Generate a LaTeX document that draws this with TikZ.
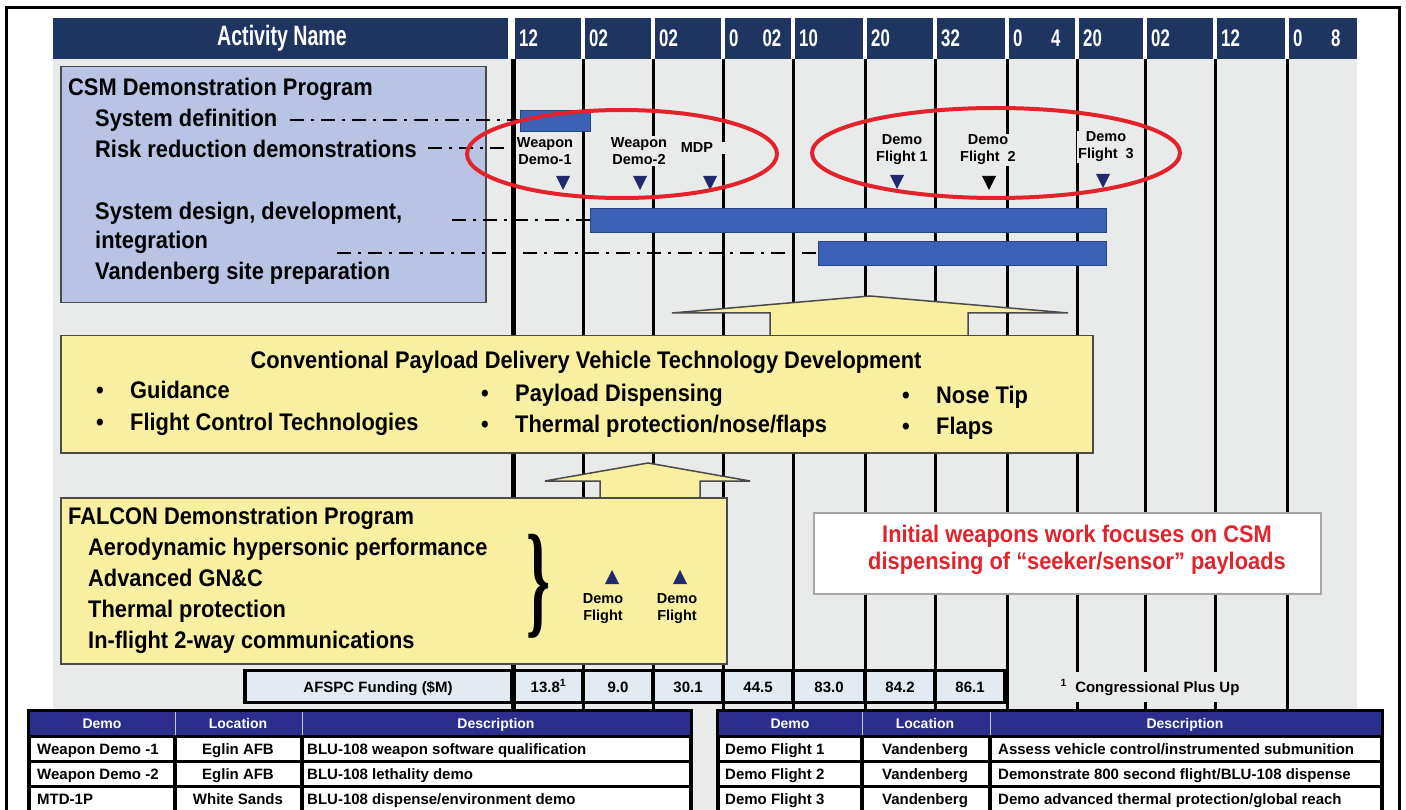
\documentclass[tikz,border=0pt]{standalone}
\usepackage{fontspec}
\usepackage{graphicx}
\setmainfont{Liberation Sans}
\newfontfamily\nar{Liberation Sans}[FakeStretch=0.91]
\newfontfamily\hdr{Liberation Sans}[FakeStretch=0.7]
\newfontfamily\serifb{Liberation Serif}
\usetikzlibrary{shapes.geometric}
\definecolor{navy}{HTML}{1E3562}
\definecolor{chartbg}{HTML}{E9EAEA}
\definecolor{csmfill}{HTML}{B9C4E4}
\definecolor{barblue}{HTML}{3B62B7}
\definecolor{ellred}{HTML}{E3232B}
\definecolor{paleyel}{HTML}{F8F0A0}
\definecolor{fundfill}{HTML}{E3EAF2}
\definecolor{tabhead}{HTML}{2B2E8C}
\definecolor{trinavy}{HTML}{22296F}
\definecolor{boxedge}{HTML}{4A4A4A}
\newcommand\tridn[3]{\fill[#3] (#1-7,#2-7) -- (#1+7,#2-7) -- (#1,#2+7) -- cycle;}
\newcommand\triup[3]{\fill[#3] (#1-7,#2+7) -- (#1+7,#2+7) -- (#1,#2-7) -- cycle;}
\begin{document}
\begin{tikzpicture}[x=1pt,y=-1pt,
  big/.style={font=\nar\bfseries\fontsize{24}{26}\selectfont, inner sep=0pt},
  lbl/.style={font=\bfseries\fontsize{14.5}{17}\selectfont, align=center, fill=chartbg, inner sep=1pt},
  flbl/.style={font=\bfseries\fontsize{14.5}{17}\selectfont, align=center, inner sep=1pt},
  tab/.style={font=\bfseries\fontsize{15}{17}\selectfont, inner sep=0pt},
  tabh/.style={font=\bfseries\fontsize{14}{16}\selectfont, inner sep=0pt, text=white},
  gridline/.style={line width=3pt},
  dashdot/.style={line width=2.5pt, dash pattern=on 14pt off 7pt on 3pt off 7pt},
  bar/.style={draw=barblue!70!black, fill=barblue, line width=1pt, inner sep=0pt},
  panel/.style={draw=boxedge, line width=1.5pt, inner sep=0pt, anchor=north west},
  hd/.style={font=\hdr\bfseries\fontsize{24}{26}\selectfont, text=white, inner sep=0pt}
]
\useasboundingbox (0,0) rectangle (1406,810);
\fill[white] (0,0) rectangle (1406,810);
% chart background
\fill[chartbg] (53,59) rectangle (1357,810);
% header
\fill[navy] (53,18) rectangle (508,59);
\node[hd, font=\hdr\bfseries\fontsize{28}{30}\selectfont] (hname) at (282,38) {Activity Name};
\foreach \l/\r/\t [count=\i] in {515/581/12, 585/651/02, 655/721/02, 725/791/0\quad 02, 795/863/10, 867/933/20, 937/1005/32, 1009/1075/0\quad\ 4, 1079/1143/20, 1147/1213/02, 1217/1285/12, 1289/1357/0\quad\ 8}{
  \fill[navy] (\l,18) rectangle (\r,59);
  \node[hd, anchor=west] (hc\i) at (\l+4,38) {\t};
}
% grid lines
\foreach \x in {583,653,723,793,865,935,1007,1077,1145,1215,1287}
  \draw[gridline] (\x,59) -- (\x,712);
\draw[line width=5pt] (513,59) -- (513,712);
% CSM box
\node[panel, fill=csmfill, minimum width=425pt, minimum height=236pt] (csm) at (60,66) {};
\node[big, anchor=base west] (tcsm) at (68,96) {CSM Demonstration Program};
\node[big, anchor=base west] (tsd) at (95,127) {System definition};
\node[big, anchor=base west] (trr) at (95,158) {Risk reduction demonstrations};
\node[big, anchor=base west] (tdd) at (95,220) {System design, development,};
\node[big, anchor=base west] (tint) at (95,249) {integration};
\node[big, anchor=base west] (tvb) at (95,280) {Vandenberg site preparation};
% bars
\node[bar, anchor=north west, minimum width=70pt, minimum height=21pt] (bar1) at (520,110) {};
\node[bar, anchor=north west, minimum width=516pt, minimum height=24pt] (bar2) at (590,208) {};
\node[bar, anchor=north west, minimum width=288pt, minimum height=24pt] (bar3) at (818,241) {};
% dash-dot leaders
\coordinate (sd0) at (290,120);
\coordinate (rr0) at (428,148);
\coordinate (rr1) at (518,148);
\coordinate (dd0) at (452,220);
\coordinate (vb0) at (337,253);
\draw[dashdot] (sd0) -- (sd0 -| bar1.west);
\draw[dashdot] (rr0) -- (rr1);
\draw[dashdot] (dd0) -- (dd0 -| bar2.west);
\draw[dashdot] (vb0) -- (vb0 -| bar3.west);
% milestone labels
\node[lbl] (w1) at (545,151) {Weapon\\Demo-1};
\node[lbl] (w2) at (639,151) {Weapon\\Demo-2};
\node[lbl, minimum width=56pt] (mdp) at (697,148) {MDP};
\node[lbl] (f1) at (902,150) {Demo\\Flight 1};
\node[lbl] (f2) at (988,150) {Demo\\Flight\ \ 2};
\node[lbl] (f3) at (1106,147) {Demo\\Flight\ \ 3};
\tridn{563}{183}{trinavy}
\tridn{640}{183}{trinavy}
\tridn{710}{183}{trinavy}
\tridn{897}{182}{trinavy}
\tridn{989}{183}{black}
\tridn{1103}{181}{trinavy}
% red ellipses
\draw[ellred, line width=4pt] (622,154) ellipse [x radius=155pt, y radius=44pt];
\draw[ellred, line width=4pt] (996,153) ellipse [x radius=184pt, y radius=45pt];
% big arrow
\filldraw[fill=paleyel, draw=boxedge, line width=1.5pt] (770,336) -- (770,313) -- (672,313) -- (870,296) -- (1068,313) -- (968,313) -- (968,336);
% CPDV box
\node[panel, fill=paleyel, minimum width=1032pt, minimum height=117pt] (cpdv) at (60,335) {};
\node[big, anchor=base] (tcp) at (586,368) {Conventional Payload Delivery Vehicle Technology Development};
\node[big, anchor=base west] (b1) at (96,399) {\textbullet};
\node[big, anchor=base west] (g1) at (130,399) {Guidance};
\node[big, anchor=base west] (b2) at (96,430) {\textbullet};
\node[big, anchor=base west] (g2) at (130,430) {Flight Control Technologies};
\node[big, anchor=base west] (b3) at (481,401) {\textbullet};
\node[big, anchor=base west] (g3) at (515,401) {Payload Dispensing};
\node[big, anchor=base west] (b4) at (481,432) {\textbullet};
\node[big, anchor=base west] (g4) at (515,432) {Thermal protection/nose/flaps};
\node[big, anchor=base west] (b5) at (902,403) {\textbullet};
\node[big, anchor=base west] (g5) at (936,403) {Nose Tip};
\node[big, anchor=base west] (b6) at (902,434) {\textbullet};
\node[big, anchor=base west] (g6) at (936,434) {Flaps};
% lower arrow
\filldraw[fill=paleyel, draw=boxedge, line width=1.5pt] (600,498) -- (600,481) -- (545,481) -- (648,463) -- (750,481) -- (700,481) -- (700,498);
% FALCON box
\node[panel, fill=paleyel, minimum width=666pt, minimum height=166pt] (falcon) at (60,497) {};
\node[big, anchor=base west] (tfa) at (68,524) {FALCON Demonstration Program};
\node[big, anchor=base west] (fa1) at (88,555) {Aerodynamic hypersonic performance};
\node[big, anchor=base west] (fa2) at (88,586) {Advanced GN\&C};
\node[big, anchor=base west] (fa3) at (88,617) {Thermal protection};
\node[big, anchor=base west] (fa4) at (88,648) {In-flight 2-way communications};
\node[inner sep=0pt] (brace) at (538,586) {\resizebox*{24pt}{104pt}{\serifb\bfseries\}}};
\triup{612}{577}{trinavy}
\triup{680}{577}{trinavy}
\node[flbl] (fd1) at (603,609) {Demo\\Flight};
\node[flbl] (fd2) at (677,609) {Demo\\Flight};
% red note box
\node[panel, draw=gray!70, fill=white, minimum width=507pt, minimum height=81pt] (note) at (813,512) {};
\node[big, text=ellred, anchor=base] (n1) at (1077,542) {Initial weapons work focuses on CSM};
\node[big, text=ellred, anchor=base] (n2) at (1077,569) {dispensing of “seeker/sensor” payloads};
% funding row
\fill[black] (243,669) rectangle (1006,704);
\fill[fundfill] (247,672) rectangle (510,701);
\foreach \l/\r/\v [count=\i] in {516/581/13.8\textsuperscript{1}, 585/651/9.0, 655/721/30.1, 725/791/44.5, 795/863/83.0, 867/933/84.2, 937/1003/86.1}{
  \fill[fundfill] (\l,672) rectangle (\r,701);
  \node[tab, anchor=base] (fv\i) at ({(\l+\r)/2},692) {\v};
}
\node[tab, anchor=base] (fund) at (378,692) {AFSPC Funding (\$M)};
\fill[chartbg] (1009,672) rectangle (1284,702);
\node[tab, anchor=base] (cong) at (1150,692) {\textsuperscript{1}\ \ Congressional Plus Up};
% left table
\fill[black] (27,709) rectangle (693,815);
\fill[tabhead] (30,712) rectangle (690,735);
\draw[gray!40, line width=1pt] (175,712) -- (175,735) (302,712) -- (302,735);
\foreach \y in {738,763,788}{
  \fill[white] (31,\y) rectangle (173,\y+22);
  \fill[white] (177,\y) rectangle (300,\y+22);
  \fill[white] (304,\y) rectangle (689,\y+22);
}
\node[tabh, anchor=base] (lh1) at (102,728) {Demo};
\node[tabh, anchor=base] (lh2) at (238,728) {Location};
\node[tabh, anchor=base] (lh3) at (496,728) {Description};
\node[tab, anchor=base west] (l11) at (37,754) {Weapon Demo -1};
\node[tab, anchor=base] (l12) at (238,754) {Eglin AFB};
\node[tab, anchor=base west] (l13) at (307,754) {BLU-108 weapon software qualification};
\node[tab, anchor=base west] (l21) at (37,779) {Weapon Demo -2};
\node[tab, anchor=base] (l22) at (238,779) {Eglin AFB};
\node[tab, anchor=base west] (l23) at (307,779) {BLU-108 lethality demo};
\node[tab, anchor=base west] (l31) at (37,804) {MTD-1P};
\node[tab, anchor=base] (l32) at (238,804) {White Sands};
\node[tab, anchor=base west] (l33) at (307,804) {BLU-108 dispense/environment demo};
% right table
\fill[black] (716,709) rectangle (1384,815);
\fill[tabhead] (719,712) rectangle (1381,735);
\draw[gray!40, line width=1pt] (862,712) -- (862,735) (990,712) -- (990,735);
\foreach \y in {738,763,788}{
  \fill[white] (720,\y) rectangle (860,\y+22);
  \fill[white] (864,\y) rectangle (988,\y+22);
  \fill[white] (992,\y) rectangle (1380,\y+22);
}
\node[tabh, anchor=base] (rh1) at (790,728) {Demo};
\node[tabh, anchor=base] (rh2) at (925,728) {Location};
\node[tabh, anchor=base] (rh3) at (1185,728) {Description};
\node[tab, anchor=base west] (r11) at (725,754) {Demo Flight 1};
\node[tab, anchor=base] (r12) at (925,754) {Vandenberg};
\node[tab, anchor=base west] (r13) at (998,754) {Assess vehicle control/instrumented submunition};
\node[tab, anchor=base west] (r21) at (725,779) {Demo Flight 2};
\node[tab, anchor=base] (r22) at (925,779) {Vandenberg};
\node[tab, anchor=base west] (r23) at (998,779) {Demonstrate 800 second flight/BLU-108 dispense};
\node[tab, anchor=base west] (r31) at (725,804) {Demo Flight 3};
\node[tab, anchor=base] (r32) at (925,804) {Vandenberg};
\node[tab, anchor=base west] (r33) at (998,804) {Demo advanced thermal protection/global reach};
% outer frame
\draw[line width=3pt] (6,830) -- (6,8) -- (1399,8) -- (1399,830);
\end{tikzpicture}
\end{document}
